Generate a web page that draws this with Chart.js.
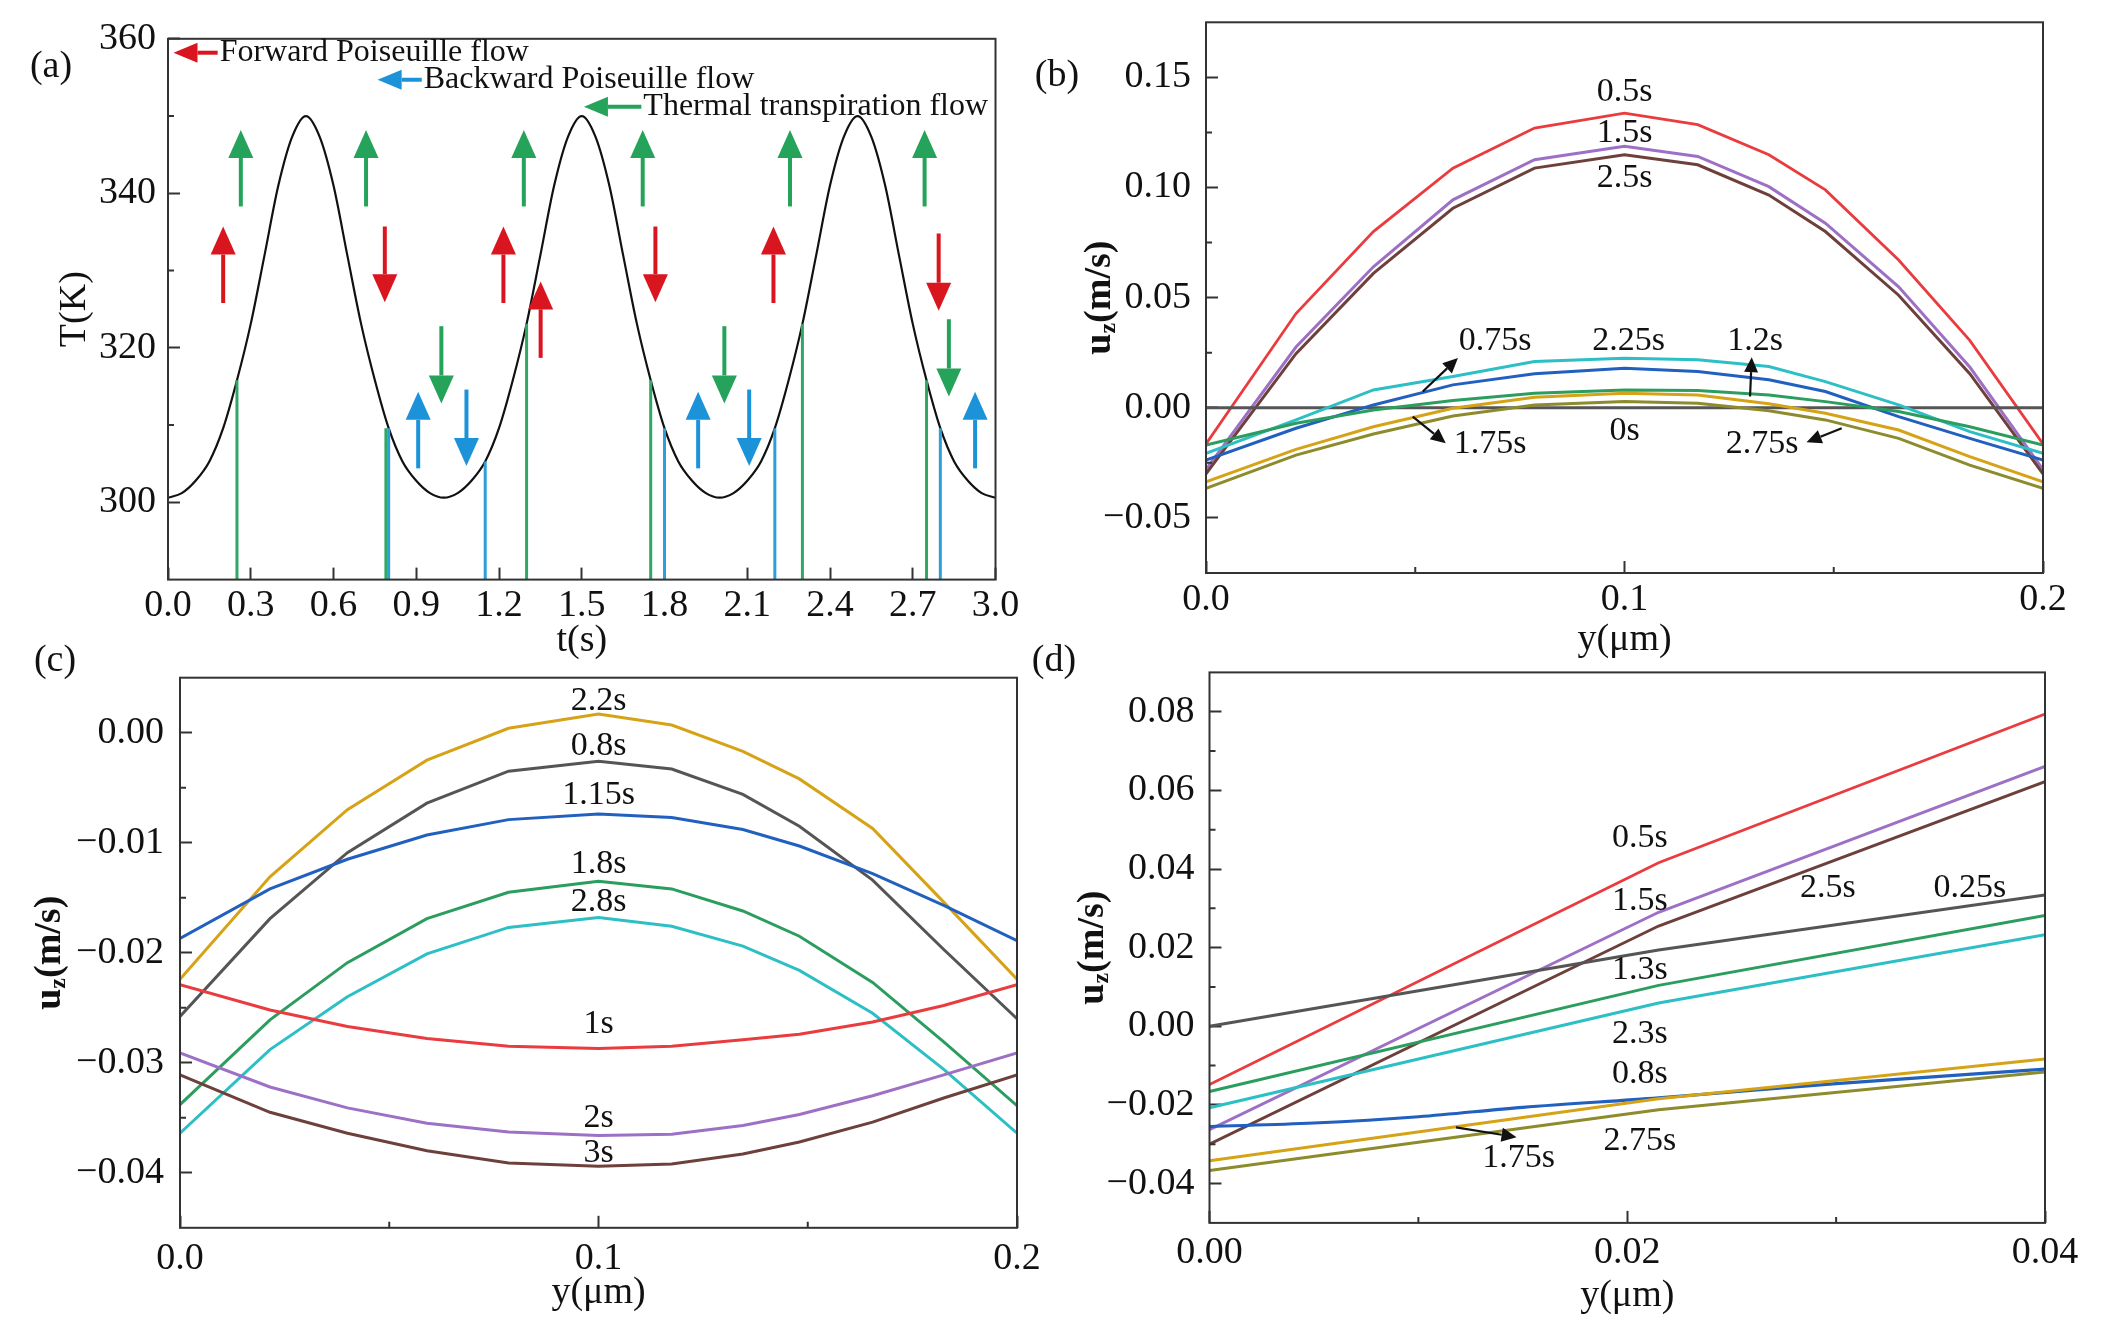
<!DOCTYPE html>
<html>
<head>
<meta charset="utf-8">
<script src="https://cdn.jsdelivr.net/npm/chart.js@4.4.1/dist/chart.umd.min.js"></script>
<style>
  html, body { margin: 0; padding: 0; background: #fff; }
  #wrap { position: relative; width: 2101px; height: 1335px; }
  #wrap canvas { position: absolute; left: 0; top: 0; }
</style>
</head>
<body>
<div id="wrap">
  <canvas id="chartA" width="2101" height="1335"></canvas>
  <canvas id="chartB" width="2101" height="1335"></canvas>
  <canvas id="chartC" width="2101" height="1335"></canvas>
  <canvas id="chartD" width="2101" height="1335"></canvas>
</div>
<script>
// ── Data ─────────────────────────────────────────────────────

// (a) wall temperature vs time
const timeA = [0.00,0.05,0.10,0.15,0.20,0.25,0.30,0.35,0.40,0.45,0.50,0.55,0.60,0.65,0.70,0.75,0.80,0.85,0.90,0.95,
               1.00,1.05,1.10,1.15,1.20,1.25,1.30,1.35,1.40,1.45,1.50,1.55,1.60,1.65,1.70,1.75,1.80,1.85,1.90,1.95,
               2.00,2.05,2.10,2.15,2.20,2.25,2.30,2.35,2.40,2.45,2.50,2.55,2.60,2.65,2.70,2.75,2.80,2.85,2.90,2.95,3.00];
const tempA = [300.6,301.2,302.8,305.3,309.6,315.8,323.1,332.0,341.0,347.3,350.0,347.3,341.0,332.0,323.1,315.8,309.6,305.3,302.8,301.2,
               300.6,301.2,302.8,305.3,309.6,315.8,323.1,332.0,341.0,347.3,350.0,347.3,341.0,332.0,323.1,315.8,309.6,305.3,302.8,301.2,
               300.6,301.2,302.8,305.3,309.6,315.8,323.1,332.0,341.0,347.3,350.0,347.3,341.0,332.0,323.1,315.8,309.6,305.3,302.8,301.2,300.6];
const greenStickT   = [0.25, 0.79, 1.30, 1.75, 2.30, 2.75];
const greenStickTop = [315.8, 309.6, 323.1, 315.8, 323.1, 315.8];
const blueStickT    = [0.80, 1.15, 1.80, 2.20, 2.80];
const blueStickTop  = [309.6, 305.3, 309.6, 309.6, 309.6];

const redArrowT    = [0.200, 0.786, 1.216, 1.351, 1.767, 2.195, 2.794];
const redArrowFrom = [325.8, 335.7, 325.8, 318.7, 335.7, 325.8, 334.8];
const redArrowTo   = [335.7, 325.9, 335.7, 328.6, 325.9, 335.7, 324.8];
const greenArrowT    = [0.264, 0.718, 0.991, 1.290, 1.721, 2.017, 2.255, 2.743, 2.831];
const greenArrowFrom = [338.3, 338.3, 322.8, 338.3, 338.3, 322.8, 338.3, 338.3, 323.7];
const greenArrowTo   = [348.2, 348.2, 312.8, 348.2, 348.2, 312.8, 348.2, 348.2, 313.7];
const blueArrowT    = [0.907, 1.082, 1.922, 2.107, 2.926];
const blueArrowFrom = [304.4, 314.6, 304.4, 314.6, 304.4];
const blueArrowTo   = [314.3, 304.7, 314.3, 304.7, 314.3];

const legendTextA  = ['Forward Poiseuille flow', 'Backward Poiseuille flow', 'Thermal transpiration flow'];
const legendTailT  = [0.18, 0.92, 1.716];
const legendTipT   = [0.02, 0.76, 1.508];
const legendLevelT = [358.2, 354.7, 351.2];

// (b),(c) velocity profiles across the channel
const yNodes = [0, 0.0215, 0.040, 0.059, 0.0785, 0.1, 0.1175, 0.1345, 0.148, 0.1655, 0.1825, 0.2];

const uB05  = [-0.0164, 0.0428, 0.0800, 0.1088, 0.1270, 0.1338, 0.1285, 0.1149, 0.0989, 0.0671, 0.0306, -0.0164];
const uB15  = [-0.0280, 0.0276, 0.0640, 0.0944, 0.1126, 0.1187, 0.1141, 0.1004, 0.0838, 0.0549, 0.0185, -0.0280];
const uB25  = [-0.0300, 0.0246, 0.0610, 0.0906, 0.1088, 0.1149, 0.1103, 0.0966, 0.0800, 0.0511, 0.0155, -0.0300];
const uB225 = [-0.0207, -0.0055, 0.0081, 0.0142, 0.0210, 0.0225, 0.0218, 0.0187, 0.0119, 0.0013, -0.0108, -0.0207];
const uB075 = [-0.0237, -0.0093, 0.0013, 0.0104, 0.0154, 0.0180, 0.0165, 0.0127, 0.0074, -0.0040, -0.0139, -0.0237];
const uB12  = [-0.0169, -0.0070, -0.0010, 0.0033, 0.0066, 0.0081, 0.0078, 0.0058, 0.0028, -0.0017, -0.0086, -0.0169];
const uB175 = [-0.0336, -0.0189, -0.0086, -0.0002, 0.0048, 0.0066, 0.0058, 0.0018, -0.0025, -0.0101, -0.0222, -0.0336];
const uB275 = [-0.0366, -0.0215, -0.0119, -0.0037, 0.0013, 0.0028, 0.0021, -0.0013, -0.0055, -0.0139, -0.0260, -0.0366];
const uB0   = [0, 0, 0, 0, 0, 0, 0, 0, 0, 0, 0, 0];

const labelsB  = ['0.5s', '1.5s', '2.5s', '0.75s', '2.25s', '1.2s', '1.75s', '0s', '2.75s'];
const labelsBX = [0.1, 0.1, 0.1, 0.0691, 0.101, 0.1312, 0.0679, 0.1, 0.1329];
const labelsBY = [0.1435, 0.1247, 0.1042, 0.0305, 0.0305, 0.0305, -0.0165, -0.0107, -0.0165];
const arrowsBX1 = [0.0518, 0.0494, 0.1300, 0.1519];
const arrowsBY1 = [0.0074, -0.0040, 0.0051, -0.0093];
const arrowsBX2 = [0.0602, 0.0573, 0.1304, 0.1435];
const arrowsBY2 = [0.0226, -0.0161, 0.0230, -0.0157];

const uC22  = [-0.0224, -0.0131, -0.0070, -0.0025, 0.0004, 0.0017, 0.0007, -0.0017, -0.0042, -0.0087, -0.0154, -0.0224];
const uC08  = [-0.0258, -0.0169, -0.0109, -0.0064, -0.0035, -0.0026, -0.0033, -0.0056, -0.0085, -0.0134, -0.0197, -0.0260];
const uC115 = [-0.0187, -0.0142, -0.0115, -0.0093, -0.0079, -0.0074, -0.0077, -0.0088, -0.0103, -0.0128, -0.0157, -0.0189];
const uC18  = [-0.0338, -0.0261, -0.0209, -0.0169, -0.0145, -0.0135, -0.0142, -0.0162, -0.0185, -0.0227, -0.0281, -0.0339];
const uC28  = [-0.0364, -0.0288, -0.0240, -0.0201, -0.0177, -0.0168, -0.0176, -0.0194, -0.0216, -0.0255, -0.0306, -0.0364];
const uC1   = [-0.0229, -0.0252, -0.0267, -0.0278, -0.0285, -0.0287, -0.0285, -0.0279, -0.0274, -0.0263, -0.0248, -0.0229];
const uC2   = [-0.0291, -0.0322, -0.0341, -0.0355, -0.0363, -0.0366, -0.0365, -0.0357, -0.0347, -0.0330, -0.0311, -0.0291];
const uC3   = [-0.0311, -0.0345, -0.0364, -0.0380, -0.0391, -0.0394, -0.0392, -0.0383, -0.0372, -0.0354, -0.0332, -0.0311];

const labelsC  = ['2.2s', '0.8s', '1.15s', '1.8s', '2.8s', '1s', '2s', '3s'];
const labelsCY = [0.00286, -0.00117, -0.00571, -0.01195, -0.01537, -0.02644, -0.0350, -0.03823];

// (d) near-wall close-up
const yNodesD = [0, 0.0215, 0.04];
const uD05  = [-0.0148, 0.0416, 0.0794];
const uD15  = [-0.0263, 0.0290, 0.0661];
const uD25  = [-0.0300, 0.0255, 0.0622];
const uD025 = [0.0000, 0.0194, 0.0334];
const uD13  = [-0.0166, 0.0104, 0.0282];
const uD23  = [-0.0207, 0.0059, 0.0233];
const uD175 = [-0.0342, -0.0184, -0.0083];
const uD275 = [-0.0367, -0.0212, -0.0116];
const yNodesD08 = [0, 0.005, 0.01, 0.015, 0.0215, 0.03, 0.04];
const uD08      = [-0.0255, -0.0246, -0.0230, -0.0206, -0.0182, -0.0146, -0.0109];

const labelsD  = ['0.5s', '1.5s', '2.5s', '0.25s', '1.3s', '2.3s', '0.8s', '2.75s', '1.75s'];
const labelsDX = [0.0206, 0.0206, 0.0296, 0.0364, 0.0206, 0.0206, 0.0206, 0.0206, 0.0148];
const labelsDY = [0.0478, 0.0318, 0.0352, 0.0352, 0.0143, -0.0020, -0.0122, -0.0291, -0.0336];
const arrowsDX1 = [0.0118], arrowsDY1 = [-0.0257], arrowsDX2 = [0.0147], arrowsDY2 = [-0.0282];

// tick values
const ticksAX = [0, 0.3, 0.6, 0.9, 1.2, 1.5, 1.8, 2.1, 2.4, 2.7, 3.0];
const ticksAY = [300, 320, 340, 360];
const minorAY = [310, 330, 350];
const ticksBX = [0, 0.1, 0.2];
const minorBX = [0.05, 0.15];
const ticksBY = [-0.05, 0, 0.05, 0.10, 0.15];
const minorBY = [-0.025, 0.025, 0.075, 0.125];
const ticksCY = [-0.04, -0.03, -0.02, -0.01, 0];
const minorCY = [-0.035, -0.025, -0.015, -0.005];
const ticksDX = [0, 0.02, 0.04];
const minorDX = [0.01, 0.03];
const ticksDY = [-0.04, -0.02, 0, 0.02, 0.04, 0.06, 0.08];
const minorDY = [-0.03, -0.01, 0.01, 0.03, 0.05, 0.07];

// ── Styling ──────────────────────────────────────────────────

const SERIF   = "'Liberation Serif', 'Times New Roman', serif";
const AXIS_C  = '#333';
const C_RED   = '#ea3b3f';
const C_PURP  = '#9d70c6';
const C_BROWN = '#6e403b';
const C_CYAN  = '#2cbfc5';
const C_BLUE  = '#2160bf';
const C_GREEN = '#2b9d5e';
const C_GOLD  = '#d6a316';
const C_OLIVE = '#8d8b2c';
const C_GRAY  = '#555555';

Chart.defaults.font.family = SERIF;
Chart.defaults.color = '#111';
Chart.defaults.animation = false;

const YW = 150, XH = 70, TICK = 12, MINOR = 6;

function pts(xs, ys) { return xs.map((x, i) => ({ x: x, y: ys[i] })); }

function fmtMinus(v, d) {
  const s = Math.abs(v).toFixed(d);
  return (v < -1e-9 ? '\u2212' : '') + s;
}

function line(xs, ys, color, width, extra) {
  return Object.assign({
    data: pts(xs, ys), borderColor: color, backgroundColor: color,
    borderWidth: width, pointRadius: 0, fill: false, tension: 0
  }, extra || {});
}

function drawArrow(ctx, x1, y1, x2, y2, color, lw, headLen, headHalf) {
  const ang = Math.atan2(y2 - y1, x2 - x1);
  const bx = x2 - headLen * Math.cos(ang), by = y2 - headLen * Math.sin(ang);
  ctx.save();
  ctx.strokeStyle = color; ctx.fillStyle = color; ctx.lineWidth = lw;
  ctx.beginPath(); ctx.moveTo(x1, y1); ctx.lineTo(bx, by); ctx.stroke();
  ctx.beginPath();
  ctx.moveTo(x2, y2);
  ctx.lineTo(bx + headHalf * Math.sin(ang), by - headHalf * Math.cos(ang));
  ctx.lineTo(bx - headHalf * Math.sin(ang), by + headHalf * Math.cos(ang));
  ctx.closePath(); ctx.fill();
  ctx.restore();
}

// y-axis title with a subscript z: u_z(m/s)
function drawUzTitle(ctx, cx, cy) {
  ctx.save();
  ctx.translate(cx, cy);
  ctx.rotate(-Math.PI / 2);
  ctx.fillStyle = '#111';
  ctx.textBaseline = 'middle';
  const big = 'bold 38px ' + SERIF, small = 'bold 24px ' + SERIF;
  ctx.font = big;   const w1 = ctx.measureText('u').width, w3 = ctx.measureText('(m/s)').width;
  ctx.font = small; const w2 = ctx.measureText('z').width;
  let x = -(w1 + w2 + w3) / 2;
  ctx.textAlign = 'left';
  ctx.font = big;   ctx.fillText('u', x, 0); x += w1;
  ctx.font = small; ctx.fillText('z', x, 9); x += w2;
  ctx.font = big;   ctx.fillText('(m/s)', x, 0);
  ctx.restore();
}

// frame, minor ticks, titles and annotations
function decoPlugin(cfg) {
  return {
    id: 'deco',
    afterDraw(chart) {
      const ctx = chart.ctx, a = chart.chartArea;
      const sx = chart.scales.x, sy = chart.scales.y;
      ctx.save();
      ctx.strokeStyle = AXIS_C; ctx.lineWidth = 2;
      ctx.strokeRect(a.left, a.top, a.right - a.left, a.bottom - a.top);
      ctx.beginPath();
      (cfg.minorX || []).forEach(v => {
        const p = sx.getPixelForValue(v);
        ctx.moveTo(p, a.bottom); ctx.lineTo(p, a.bottom - MINOR);
      });
      (cfg.minorY || []).forEach(v => {
        const p = sy.getPixelForValue(v);
        ctx.moveTo(a.left, p); ctx.lineTo(a.left + MINOR, p);
      });
      ctx.stroke();

      ctx.fillStyle = '#111';
      ctx.textAlign = 'center'; ctx.textBaseline = 'middle';
      ctx.font = '38px ' + SERIF;
      ctx.fillText(cfg.panel, cfg.panelX, cfg.panelY);
      ctx.fillText(cfg.xTitle, (a.left + a.right) / 2, a.bottom + cfg.xTitleOff);
      if (cfg.yTitle === 'uz') {
        drawUzTitle(ctx, cfg.yTitleX, (a.top + a.bottom) / 2);
      } else {
        ctx.save();
        ctx.translate(cfg.yTitleX, (a.top + a.bottom) / 2);
        ctx.rotate(-Math.PI / 2);
        ctx.fillText(cfg.yTitle, 0, 0);
        ctx.restore();
      }

      ctx.font = '34px ' + SERIF;
      (cfg.labels || []).forEach((t, i) => {
        ctx.fillText(t, sx.getPixelForValue(cfg.labelX[i]), sy.getPixelForValue(cfg.labelY[i]));
      });
      (cfg.arrows || []).forEach(ar => {
        ar.x1.forEach((_, i) => {
          drawArrow(ctx, sx.getPixelForValue(ar.x1[i]), sy.getPixelForValue(ar.y1[i]),
                    sx.getPixelForValue(ar.x2[i]), sy.getPixelForValue(ar.y2[i]),
                    ar.color, ar.lw, ar.head, ar.half);
        });
      });
      if (cfg.extra) cfg.extra(chart, ctx, sx, sy);
      ctx.restore();
    }
  };
}

function makeChart(id, box, datasets, axes, cfg) {
  const fixTicks = vals => s => { s.ticks = vals.map(v => ({ value: v })); };
  return new Chart(document.getElementById(id), {
    type: 'line',
    data: { datasets: datasets },
    options: {
      responsive: false,
      devicePixelRatio: 1,
      layout: { padding: { left: box.left - YW, top: box.top, right: 2101 - box.right, bottom: 1335 - box.bottom - XH } },
      plugins: { legend: { display: false }, tooltip: { enabled: false } },
      scales: {
        x: {
          type: 'linear', min: axes.xMin, max: axes.xMax,
          afterBuildTicks: fixTicks(axes.xTicks),
          afterFit: s => { s.height = XH; s.paddingLeft = 0; s.paddingRight = 0; },
          border: { display: false },
          grid: { drawOnChartArea: false, drawTicks: true, tickLength: -TICK, tickWidth: 2, tickColor: AXIS_C },
          ticks: { padding: axes.xPad, maxRotation: 0, autoSkip: false, font: { size: 38 }, color: '#111',
                   callback: v => fmtMinus(v, axes.xDec) }
        },
        y: {
          type: 'linear', min: axes.yMin, max: axes.yMax,
          afterBuildTicks: fixTicks(axes.yTicks),
          afterFit: s => { s.width = YW; s.paddingTop = 0; s.paddingBottom = 0; },
          border: { display: false },
          grid: { drawOnChartArea: false, drawTicks: true, tickLength: -TICK, tickWidth: 2, tickColor: AXIS_C },
          ticks: { padding: axes.yPad, autoSkip: false, font: { size: 38 }, color: '#111',
                   callback: v => fmtMinus(v, axes.yDec) }
        }
      }
    },
    plugins: [decoPlugin(cfg)]
  });
}

// ── Panel (a) ────────────────────────────────────────────────

const dsA = [];
greenStickT.forEach((t, i) => dsA.push(line([t, t], [290, greenStickTop[i]], '#2fa865', 3)));
blueStickT.forEach((t, i) => dsA.push(line([t, t], [290, blueStickTop[i]], '#2e9ddc', 3)));
dsA.push(line(timeA, tempA, '#111', 2.2, { cubicInterpolationMode: 'monotone' }));

makeChart('chartA', { left: 168, top: 38.8, right: 995.5, bottom: 579.6 }, dsA,
  { xMin: 0, xMax: 3, xTicks: ticksAX, xDec: 1, xPad: 16,
    yMin: 290, yMax: 360, yTicks: ticksAY, yDec: 0, yPad: 24 },
  { panel: '(a)', panelX: 51, panelY: 67, xTitle: 't(s)', xTitleOff: 61, yTitle: 'T(K)', yTitleX: 75,
    minorY: minorAY,
    arrows: [
      { x1: redArrowT, y1: redArrowFrom, x2: redArrowT, y2: redArrowTo, color: '#d9161f', lw: 4, head: 28, half: 12.5 },
      { x1: greenArrowT, y1: greenArrowFrom, x2: greenArrowT, y2: greenArrowTo, color: '#25a35a', lw: 4, head: 28, half: 12.5 },
      { x1: blueArrowT, y1: blueArrowFrom, x2: blueArrowT, y2: blueArrowTo, color: '#1c93d8', lw: 4, head: 28, half: 12.5 }
    ],
    extra: (chart, ctx, sx, sy) => {
      const cols = ['#d9161f', '#1c93d8', '#25a35a'];
      ctx.font = '32px ' + SERIF;
      ctx.textAlign = 'left'; ctx.textBaseline = 'middle';
      legendTextA.forEach((t, i) => {
        const yy = sy.getPixelForValue(legendLevelT[i]);
        drawArrow(ctx, sx.getPixelForValue(legendTailT[i]), yy, sx.getPixelForValue(legendTipT[i]), yy,
                  cols[i], 4, 24, 10);
        ctx.fillStyle = '#111';
        ctx.fillText(t, sx.getPixelForValue(legendTailT[i]) + 2, yy);
      });
    }
  });

// ── Panel (b) ────────────────────────────────────────────────

makeChart('chartB', { left: 1206, top: 22.3, right: 2043, bottom: 573 }, [
    line(yNodes, uB175, C_GOLD, 3),
    line(yNodes, uB275, C_OLIVE, 3),
    line(yNodes, uB12, C_GREEN, 3),
    line(yNodes, uB075, C_BLUE, 3),
    line(yNodes, uB225, C_CYAN, 3),
    line(yNodes, uB0, C_GRAY, 3),
    line(yNodes, uB25, C_BROWN, 3),
    line(yNodes, uB15, C_PURP, 3),
    line(yNodes, uB05, C_RED, 2.8)
  ],
  { xMin: 0, xMax: 0.2, xTicks: ticksBX, xDec: 1, xPad: 16,
    yMin: -0.075, yMax: 0.175, yTicks: ticksBY, yDec: 2, yPad: 27 },
  { panel: '(b)', panelX: 1057, panelY: 76, xTitle: 'y(\u03bcm)', xTitleOff: 67, yTitle: 'uz', yTitleX: 1100,
    minorX: minorBX, minorY: minorBY,
    labels: labelsB, labelX: labelsBX, labelY: labelsBY,
    arrows: [{ x1: arrowsBX1, y1: arrowsBY1, x2: arrowsBX2, y2: arrowsBY2, color: '#111', lw: 2.2, head: 15, half: 7 }]
  });

// ── Panel (c) ────────────────────────────────────────────────

makeChart('chartC', { left: 180, top: 677.7, right: 1017, bottom: 1227.8 }, [
    line(yNodes, uC3, C_BROWN, 3),
    line(yNodes, uC2, C_PURP, 3),
    line(yNodes, uC1, C_RED, 3),
    line(yNodes, uC28, C_CYAN, 3),
    line(yNodes, uC18, C_GREEN, 3),
    line(yNodes, uC115, C_BLUE, 3),
    line(yNodes, uC08, C_GRAY, 3),
    line(yNodes, uC22, C_GOLD, 3)
  ],
  { xMin: 0, xMax: 0.2, xTicks: ticksBX, xDec: 1, xPad: 20,
    yMin: -0.045, yMax: 0.005, yTicks: ticksCY, yDec: 2, yPad: 28 },
  { panel: '(c)', panelX: 55, panelY: 661, xTitle: 'y(\u03bcm)', xTitleOff: 65, yTitle: 'uz', yTitleX: 50,
    minorX: minorBX, minorY: minorCY,
    labels: labelsC, labelX: labelsC.map(() => 0.1), labelY: labelsCY
  });

// ── Panel (d) ────────────────────────────────────────────────

makeChart('chartD', { left: 1209.5, top: 672.4, right: 2045, bottom: 1222.9 }, [
    line(yNodesD, uD275, C_OLIVE, 3),
    line(yNodesD, uD175, C_GOLD, 3),
    line(yNodesD08, uD08, C_BLUE, 3.2, { cubicInterpolationMode: 'monotone' }),
    line(yNodesD, uD23, C_CYAN, 3),
    line(yNodesD, uD13, C_GREEN, 3),
    line(yNodesD, uD025, C_GRAY, 3),
    line(yNodesD, uD25, C_BROWN, 3),
    line(yNodesD, uD15, C_PURP, 3),
    line(yNodesD, uD05, C_RED, 2.8)
  ],
  { xMin: 0, xMax: 0.04, xTicks: ticksDX, xDec: 2, xPad: 19,
    yMin: -0.05, yMax: 0.09, yTicks: ticksDY, yDec: 2, yPad: 27 },
  { panel: '(d)', panelX: 1054, panelY: 661, xTitle: 'y(\u03bcm)', xTitleOff: 73, yTitle: 'uz', yTitleX: 1093,
    minorX: minorDX, minorY: minorDY,
    labels: labelsD, labelX: labelsDX, labelY: labelsDY,
    arrows: [{ x1: arrowsDX1, y1: arrowsDY1, x2: arrowsDX2, y2: arrowsDY2, color: '#111', lw: 2.2, head: 15, half: 7 }]
  });
</script>
</body>
</html>
